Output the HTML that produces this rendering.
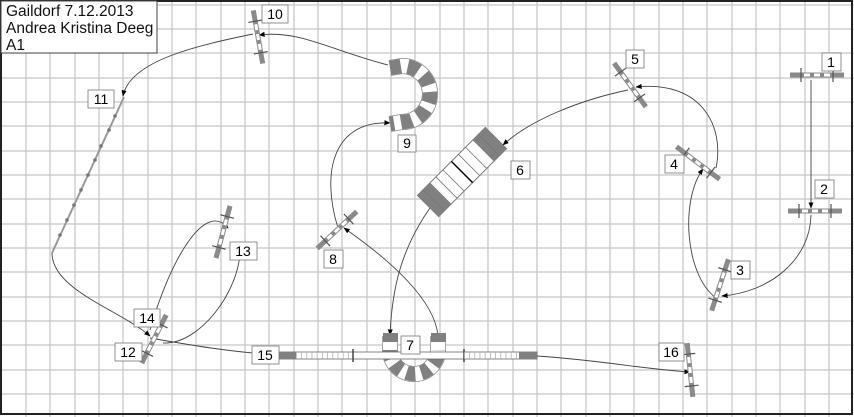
<!DOCTYPE html>
<html><head><meta charset="utf-8"><style>
html,body{margin:0;padding:0;background:#fff;}
svg{display:block;}
text{font-family:"Liberation Sans",sans-serif;}
</style></head><body>
<svg width="854" height="417" viewBox="0 0 854 417" xmlns="http://www.w3.org/2000/svg">
<defs>
<g id="jump">
 <rect x="-27" y="-2.5" width="54" height="5" fill="#8a8a8a"/>
 <rect x="-13" y="-1.5" width="26" height="3" fill="#fff"/>
 <rect x="-7" y="-1.5" width="4" height="3" fill="#888"/>
 <rect x="3" y="-1.5" width="4" height="3" fill="#888"/>
 <line x1="-16" y1="-7" x2="-16" y2="7" stroke="#555" stroke-width="1.2"/>
 <line x1="16" y1="-7" x2="16" y2="7" stroke="#555" stroke-width="1.2"/>
</g>
<marker id="ar" viewBox="0 0 10 10" refX="9" refY="5" markerWidth="7" markerHeight="7" orient="auto"><path d="M0,1 L10,5 L0,9z" fill="#000"/></marker>
</defs>
<rect x="0" y="0" width="854" height="417" fill="#fff"/>
<g id="grid" stroke="#c8c8c8" stroke-width="1.3">
<line x1="26" y1="0" x2="26" y2="417"/><line x1="50" y1="0" x2="50" y2="417"/><line x1="75" y1="0" x2="75" y2="417"/><line x1="99" y1="0" x2="99" y2="417"/><line x1="123" y1="0" x2="123" y2="417"/><line x1="148" y1="0" x2="148" y2="417"/><line x1="172" y1="0" x2="172" y2="417"/><line x1="196" y1="0" x2="196" y2="417"/><line x1="221" y1="0" x2="221" y2="417"/><line x1="245" y1="0" x2="245" y2="417"/><line x1="269" y1="0" x2="269" y2="417"/><line x1="294" y1="0" x2="294" y2="417"/><line x1="318" y1="0" x2="318" y2="417"/><line x1="342" y1="0" x2="342" y2="417"/><line x1="367" y1="0" x2="367" y2="417"/><line x1="391" y1="0" x2="391" y2="417"/><line x1="415" y1="0" x2="415" y2="417"/><line x1="440" y1="0" x2="440" y2="417"/><line x1="464" y1="0" x2="464" y2="417"/><line x1="488" y1="0" x2="488" y2="417"/><line x1="513" y1="0" x2="513" y2="417"/><line x1="537" y1="0" x2="537" y2="417"/><line x1="561" y1="0" x2="561" y2="417"/><line x1="586" y1="0" x2="586" y2="417"/><line x1="610" y1="0" x2="610" y2="417"/><line x1="634" y1="0" x2="634" y2="417"/><line x1="659" y1="0" x2="659" y2="417"/><line x1="683" y1="0" x2="683" y2="417"/><line x1="707" y1="0" x2="707" y2="417"/><line x1="732" y1="0" x2="732" y2="417"/><line x1="756" y1="0" x2="756" y2="417"/><line x1="780" y1="0" x2="780" y2="417"/><line x1="805" y1="0" x2="805" y2="417"/><line x1="829" y1="0" x2="829" y2="417"/>
<line x1="0" y1="5" x2="854" y2="5"/><line x1="0" y1="29" x2="854" y2="29"/><line x1="0" y1="53" x2="854" y2="53"/><line x1="0" y1="78" x2="854" y2="78"/><line x1="0" y1="102" x2="854" y2="102"/><line x1="0" y1="126" x2="854" y2="126"/><line x1="0" y1="151" x2="854" y2="151"/><line x1="0" y1="175" x2="854" y2="175"/><line x1="0" y1="199" x2="854" y2="199"/><line x1="0" y1="224" x2="854" y2="224"/><line x1="0" y1="248" x2="854" y2="248"/><line x1="0" y1="272" x2="854" y2="272"/><line x1="0" y1="297" x2="854" y2="297"/><line x1="0" y1="321" x2="854" y2="321"/><line x1="0" y1="345" x2="854" y2="345"/><line x1="0" y1="370" x2="854" y2="370"/><line x1="0" y1="394" x2="854" y2="394"/>
</g>
<rect x="1" y="1" width="851" height="413" fill="none" stroke="#222" stroke-width="2"/>

<g fill="none" stroke="#444" stroke-width="0.9" marker-end="url(#ar)">
<path d="M811,80 L811,208"/>
<path d="M811,215 C810,260 770,292 722,296"/>
<path d="M716,298 C685,275 680,200 703,169"/>
<path d="M716,168 C725,125 700,80 636,87"/>
<path d="M628,90 C580,100 530,120 503,145"/>
<path d="M432,205 C400,250 392,290 390,335"/>
<path d="M438,336 C435,300 390,260 344,228"/>
<path d="M338,228 C320,170 335,120 390,123"/>
<path d="M388,65 C330,50 300,30 259,35"/>
<path d="M253,34 C200,45 130,60 123,96"/>
<path d="M52,253 C52,290 120,310 150,336"/>
<path d="M150,330 C170,260 205,200 228,228"/>
<path d="M240,250 C240,290 200,345 163,343" marker-end="none"/>
<path d="M150,338 C190,345 230,352 278,355" marker-end="none"/>
<path d="M537,356 C600,360 650,370 690,372"/>
</g>

<line x1="124" y1="97" x2="52" y2="253" stroke="#999" stroke-width="2"/>
<g fill="#777"><circle cx="115" cy="116" r="1.8"/><circle cx="109" cy="130" r="1.8"/><circle cx="101" cy="146" r="1.8"/><circle cx="95" cy="160" r="1.8"/><circle cx="88" cy="175" r="1.8"/><circle cx="81" cy="190" r="1.8"/><circle cx="74" cy="205" r="1.8"/><circle cx="67" cy="220" r="1.8"/><circle cx="60" cy="235" r="1.8"/></g>

<use href="#jump" transform="translate(817,75)"/>
<use href="#jump" transform="translate(815,211)"/>
<use href="#jump" transform="translate(720,285) rotate(108)"/>
<use href="#jump" transform="translate(698,163) rotate(37)"/>
<use href="#jump" transform="translate(630,85) rotate(54)"/>
<use href="#jump" transform="translate(258,37) rotate(80)"/>
<use href="#jump" transform="translate(337,230) rotate(-43)"/>
<use href="#jump" transform="translate(223,232) rotate(105)"/>
<use href="#jump" transform="translate(154,339) rotate(117)"/>
<use href="#jump" transform="translate(690,370) rotate(84)"/>

<path d="M390,68 L402,66 A28,28 0 0 1 402,122 L390,124" fill="none" stroke="#888" stroke-width="16"/>
<path d="M390,68 L402,66 A28,28 0 0 1 402,122 L390,124" fill="none" stroke="#fff" stroke-width="14.5"/>
<path d="M390,68 L402,66 A28,28 0 0 1 402,122 L390,124" fill="none" stroke="#808080" stroke-width="14.5" stroke-dasharray="11,7"/>
<g transform="translate(462,172) rotate(-45)">
<rect x="-48" y="-15" width="96" height="30" fill="#fff" stroke="#777"/>
<rect x="-48" y="-15" width="18" height="30" fill="#808080"/>
<rect x="30" y="-15" width="18" height="30" fill="#808080"/>
<g stroke="#777" stroke-width="0.8"><line x1="-22" y1="-15" x2="-22" y2="15"/><line x1="-12" y1="-15" x2="-12" y2="15"/><line x1="10" y1="-15" x2="10" y2="15"/><line x1="20" y1="-15" x2="20" y2="15"/><line x1="-40" y1="-15" x2="-40" y2="15"/><line x1="38" y1="-15" x2="38" y2="15"/></g>
<line x1="0" y1="-15" x2="0" y2="15" stroke="#000" stroke-width="1.5"/>
</g>
<path d="M390,336 L390,350 A24,24 0 0 0 438,350 L438,336" fill="none" stroke="#888" stroke-width="16"/>
<path d="M390,336 L390,350 A24,24 0 0 0 438,350 L438,336" fill="none" stroke="#fff" stroke-width="14.5"/>
<path d="M390,350 A24,24 0 0 0 438,350" fill="none" stroke="#808080" stroke-width="14.5" stroke-dasharray="9,6"/>
<rect x="383" y="333" width="15" height="9" fill="#808080"/>
<rect x="431" y="333" width="15" height="9" fill="#808080"/>
<rect x="278" y="352" width="259" height="7" fill="#fff" stroke="#666" stroke-width="0.8"/>
<rect x="278" y="352" width="18" height="7" fill="#808080"/>
<rect x="519" y="352" width="18" height="7" fill="#808080"/>
<line x1="353" y1="349" x2="353" y2="362" stroke="#444" stroke-width="1.5"/>
<line x1="464" y1="349" x2="464" y2="362" stroke="#444" stroke-width="1.5"/>
<line x1="296" y1="355.5" x2="353" y2="355.5" stroke="#aaa" stroke-width="7" stroke-dasharray="0.7,4.5"/>
<line x1="464" y1="355.5" x2="519" y2="355.5" stroke="#aaa" stroke-width="7" stroke-dasharray="0.7,4.5"/>

<g font-size="14" text-anchor="middle">
<g fill="#fff" stroke="#777" stroke-width="0.8">
<rect x="822" y="53" width="19" height="18"/><rect x="815" y="180" width="19" height="18"/><rect x="731" y="261" width="19" height="18"/><rect x="665" y="155" width="19" height="18"/><rect x="626" y="50" width="18" height="18"/><rect x="511" y="161" width="19" height="18"/><rect x="401" y="336" width="19" height="18"/><rect x="324" y="250" width="19" height="18"/><rect x="398" y="135" width="18" height="17"/><rect x="262" y="5" width="26" height="18"/><rect x="88" y="90" width="26" height="18"/><rect x="115" y="343" width="27" height="18"/><rect x="230" y="242" width="27" height="18"/><rect x="134" y="309" width="26" height="18"/><rect x="252" y="346" width="27" height="18"/><rect x="659" y="343" width="25" height="18"/>
</g>
<text x="831" y="67">1</text><text x="824" y="194">2</text><text x="740" y="275">3</text><text x="674" y="169">4</text><text x="635" y="64">5</text><text x="520" y="175">6</text><text x="410" y="350">7</text><text x="333" y="264">8</text><text x="407" y="148">9</text><text x="275" y="19">10</text><text x="101" y="104">11</text><text x="128" y="357">12</text><text x="243" y="256">13</text><text x="147" y="323">14</text><text x="265" y="360">15</text><text x="671" y="357">16</text>
</g>

<rect x="1" y="1" width="156" height="52" fill="#fff" stroke="#444" stroke-width="1"/>
<g font-size="15.5" fill="#111"><text x="6" y="16">Gaildorf 7.12.2013</text><text x="6" y="33">Andrea Kristina Deeg</text><text x="6" y="50">A1</text></g>
</svg>
</body></html>
